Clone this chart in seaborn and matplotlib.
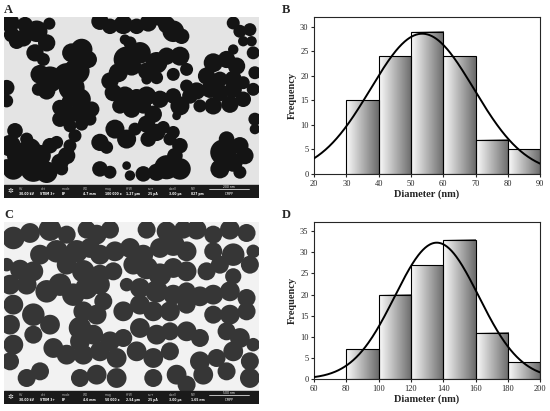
import numpy as np
import pandas as pd
import seaborn as sns
import matplotlib.pyplot as plt
from matplotlib.patches import Circle, Rectangle

# histogram data
edges_b = [30, 40, 50, 60, 70, 80, 90]
counts_b = [15, 24, 29, 24, 7, 5]
fit_b = dict(mean=53.5, sd=16.0, peak=28.6)

edges_d = [80, 100, 120, 140, 160, 180, 200]
counts_d = [7, 20, 27, 33, 11, 4]
fit_d = dict(mean=136.0, sd=26.0, peak=32.3)

# particle outlines in the micrographs (x, y, r in image pixels)
particles_a = [
    (30, 70, 22), (75, 75, 18), (110, 95, 25), (148, 72, 14), (140, 130, 20), (105, 160, 20),
    (130, 180, 15), (215, 160, 22), (245, 150, 25), (265, 180, 20), (230, 215, 30), (200, 230, 30),
    (215, 265, 30), (150, 240, 30), (120, 225, 22), (140, 275, 20), (115, 270, 15), (240, 300, 25),
    (205, 305, 15), (180, 325, 18), (210, 345, 20), (180, 360, 18), (210, 380, 15), (240, 345, 20),
    (270, 360, 15), (275, 330, 18), (245, 375, 15), (225, 410, 15), (210, 440, 15), (200, 470, 20),
    (180, 490, 20), (185, 510, 15), (300, 65, 20), (330, 80, 18), (370, 75, 22), (410, 80, 18),
    (445, 70, 20), (480, 60, 15), (500, 75, 20), (520, 95, 25), (545, 110, 18), (390, 130, 15),
    (375, 120, 12), (420, 160, 25), (380, 180, 30), (355, 220, 22), (395, 200, 22), (440, 215, 20),
    (470, 190, 25), (500, 170, 20), (540, 170, 22), (520, 225, 15), (560, 210, 15), (470, 235, 15),
    (440, 240, 12), (330, 245, 20), (340, 280, 20), (375, 290, 22), (410, 295, 20), (440, 290, 22),
    (480, 300, 20), (520, 290, 18), (540, 320, 22), (570, 290, 18), (590, 275, 20), (560, 260, 15),
    (600, 320, 15), (360, 320, 18), (395, 330, 20), (430, 320, 18), (460, 345, 20), (440, 375, 20),
    (405, 390, 15), (380, 420, 22), (345, 390, 22), (300, 430, 20), (320, 445, 15), (445, 420, 18),
    (470, 400, 20), (490, 385, 15), (530, 350, 10), (520, 400, 15), (510, 420, 15), (540, 440, 18),
    (525, 470, 18), (640, 190, 22), (680, 180, 20), (710, 200, 20), (700, 240, 20), (660, 240, 18),
    (620, 230, 20), (630, 270, 20), (660, 280, 20), (700, 270, 20), (730, 250, 15), (640, 320, 20),
    (690, 315, 20), (730, 300, 18), (760, 270, 15), (700, 70, 15), (720, 95, 15), (750, 90, 15),
    (730, 125, 12), (755, 125, 12), (700, 150, 12), (760, 160, 15), (765, 220, 15), (765, 360, 15),
    (765, 390, 12), (680, 420, 18), (670, 460, 30), (720, 440, 20), (735, 470, 20), (700, 490, 22),
    (660, 510, 22), (720, 520, 15), (45, 395, 18), (30, 440, 25), (60, 470, 30), (90, 450, 25),
    (120, 470, 25), (40, 510, 25), (100, 510, 30), (140, 520, 25), (20, 500, 15), (80, 420, 15),
    (150, 440, 18), (170, 430, 15), (500, 505, 28), (540, 510, 25), (470, 520, 20), (430, 525, 18),
    (380, 500, 10), (390, 530, 12), (300, 510, 18), (330, 520, 15), (20, 265, 18), (20, 305, 15),
    (35, 105, 18), (50, 125, 18), (70, 115, 20),
]
particles_c = [
    (40, 100, 25), (90, 85, 22), (150, 75, 25), (200, 90, 20), (260, 75, 20), (290, 90, 22),
    (330, 75, 20), (440, 75, 20), (500, 80, 22), (550, 75, 20), (590, 75, 22), (640, 90, 20),
    (690, 75, 22), (740, 85, 20), (120, 150, 22), (170, 140, 25), (230, 140, 25), (270, 130, 22),
    (300, 150, 22), (345, 140, 22), (390, 130, 22), (430, 150, 22), (480, 130, 22), (520, 120, 25),
    (560, 140, 22), (640, 140, 20), (700, 150, 25), (760, 140, 15), (60, 195, 22), (100, 200, 22),
    (200, 180, 22), (250, 200, 25), (300, 210, 22), (340, 200, 20), (400, 180, 22), (440, 190, 25),
    (480, 210, 25), (520, 190, 22), (560, 200, 22), (620, 200, 20), (660, 180, 20), (700, 215, 18),
    (750, 180, 20), (20, 180, 15), (30, 240, 22), (80, 240, 22), (140, 260, 25), (180, 240, 25),
    (220, 270, 25), (260, 250, 25), (300, 240, 22), (380, 240, 15), (420, 250, 22), (470, 260, 25),
    (520, 270, 22), (560, 260, 20), (600, 275, 22), (640, 270, 22), (690, 260, 22), (740, 280, 20),
    (40, 300, 22), (100, 330, 25), (150, 360, 22), (30, 360, 22), (250, 320, 22), (290, 330, 22),
    (240, 370, 25), (370, 320, 22), (420, 300, 22), (460, 320, 22), (510, 320, 22), (560, 300, 20),
    (640, 330, 20), (690, 330, 22), (740, 320, 20), (310, 290, 20), (40, 420, 22), (100, 390, 20),
    (240, 410, 22), (280, 390, 22), (330, 410, 22), (370, 400, 20), (420, 370, 22), (470, 390, 22),
    (510, 380, 20), (560, 380, 22), (600, 400, 20), (680, 380, 20), (720, 400, 22), (760, 420, 15),
    (30, 470, 20), (160, 430, 22), (200, 450, 22), (250, 450, 22), (300, 440, 22), (350, 460, 22),
    (410, 440, 22), (460, 460, 22), (510, 440, 20), (600, 470, 22), (650, 460, 20), (700, 440, 22),
    (750, 470, 20), (80, 520, 20), (120, 500, 20), (240, 520, 20), (290, 510, 22), (350, 520, 22),
    (460, 520, 20), (530, 510, 22), (610, 510, 22), (680, 500, 20), (750, 520, 22), (560, 540, 20),
]

info_a = ['30.00 kV', 'STEM 3+', 'BF', '4.7 mm', '100 000 x', '1.27 µm', '25 pA', '3.00 µs', '827 pm']
info_c = ['30.00 kV', 'STEM 3+', 'BF', '4.6 mm', '50 000 x', '2.54 µm', '25 pA', '3.00 µs', '1.65 nm']
info_head = ['HV', 'det', 'mode', 'WD', 'mag', 'HFW', 'curr', 'dwell', 'PW']

sns.set_style('ticks')
plt.rcParams['font.family'] = ['Liberation Serif', 'DejaVu Serif']

fig = plt.figure(figsize=(5.5, 4.11), dpi=100)


def micrograph(rect, parts, pcolor, bg, info, scale, grow):
    ax = fig.add_axes(rect)
    W, H, bar = 766, 546, 506
    ax.set_xlim(0, W)
    ax.set_ylim(H, 0)
    ax.add_patch(Rectangle((0, 0), W, bar, color=bg, zorder=0))
    for x, y, r in parts:
        ax.add_patch(Circle((x - 12, y - 52), r * grow, color=pcolor, lw=0, zorder=1))
    ax.add_patch(Rectangle((0, bar), W, H - bar, color='#1a1a1a', zorder=2))
    xs = np.linspace(45, 560, len(info))
    for xx, h, v in zip(xs, info_head, info):
        ax.text(xx, bar + 12, h, color='#bbbbbb', fontsize=2.2, family='DejaVu Sans', va='center', zorder=3)
        ax.text(xx, bar + 28, v, color='white', fontsize=2.2, family='DejaVu Sans',
                weight='bold', va='center', zorder=3)
    ax.plot([615, 735], [bar + 12, bar + 12], color='white', lw=0.5, zorder=3)
    ax.text(675, bar + 8, scale, color='white', fontsize=2.2, family='DejaVu Sans', ha='center', va='center', zorder=3)
    ax.text(675, bar + 28, 'ICMPP', color='white', fontsize=2.2, family='DejaVu Sans', ha='center', va='center', zorder=3)
    ax.text(18, bar + 20, '✲', color='white', fontsize=5, family='DejaVu Sans', ha='center', va='center', zorder=3)
    ax.axis('off')
    return ax


def histogram(rect, edges, counts, fit, xlim, xticks, ylim, yticks):
    ax = fig.add_axes(rect)
    centers = [(a + b) / 2 for a, b in zip(edges[:-1], edges[1:])]
    df = pd.DataFrame({'d': centers, 'n': counts})
    sns.histplot(data=df, x='d', weights='n', bins=edges, ax=ax, stat='count',
                 color='white', linewidth=0.8, element='bars')
    grad = np.linspace(0.98, 0.42, 64).reshape(1, -1)
    for p in ax.patches:
        x0, w, h = p.get_x(), p.get_width(), p.get_height()
        ax.imshow(grad, cmap='gray', vmin=0, vmax=1, aspect='auto',
                  extent=[x0, x0 + w, 0, h], zorder=1, interpolation='bilinear')
        p.set_facecolor('none')
        p.set_edgecolor('black')
        p.set_alpha(1)
        p.set_linewidth(0.8)
        p.set_zorder(2)
    xs = np.linspace(xlim[0], xlim[1], 300)
    ys = fit['peak'] * np.exp(-0.5 * ((xs - fit['mean']) / fit['sd']) ** 2)
    sns.lineplot(x=xs, y=ys, ax=ax, color='black', linewidth=1.4, zorder=3)
    ax.set_xlim(*xlim)
    ax.set_ylim(*ylim)
    ax.set_xticks(xticks)
    ax.set_yticks(yticks)
    ax.tick_params(labelsize=6, length=2.5, width=0.8, pad=1.5)
    for s in ax.spines.values():
        s.set_linewidth(0.8)
    ax.set_xlabel('Diameter (nm)', fontsize=7.5, weight='bold', labelpad=1)
    ax.set_ylabel('Frequency', fontsize=7.5, weight='bold', labelpad=2)
    return ax


micrograph([0.0073, 0.518, 0.464, 0.4406], particles_a, '#141414', '#e4e4e4', info_a, '200 nm', 1.3)
micrograph([0.0073, 0.017, 0.464, 0.4429], particles_c, '#363636', '#f2f2f2', info_c, '500 nm', 1.35)
histogram([0.571, 0.5766, 0.411, 0.382], edges_b, counts_b, fit_b,
          (20, 90), range(20, 91, 10), (0, 32), range(0, 31, 5))
histogram([0.571, 0.0779, 0.411, 0.382], edges_d, counts_d, fit_d,
          (60, 200), range(60, 201, 20), (0, 37.2), range(0, 36, 5))

for lbl, x, y in [('A', 4, 4), ('B', 282, 4), ('C', 4, 209), ('D', 282, 209)]:
    fig.text(x / 550, 1 - y / 411, lbl, fontsize=9, weight='bold', va='top', ha='left')

fig.savefig('out.png', dpi=100)
